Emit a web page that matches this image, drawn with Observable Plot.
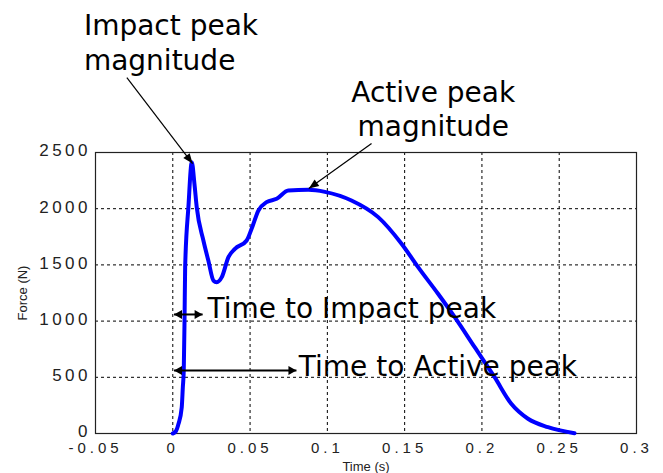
<!DOCTYPE html>
<html>
<head>
<meta charset="utf-8">
<script src="https://cdn.jsdelivr.net/npm/d3@7"></script>
<script src="https://cdn.jsdelivr.net/npm/@observablehq/plot@0.6"></script>
<style>
  html, body { margin: 0; padding: 0; background: #fff; }
  g[aria-label="y-axis tick label"] text { letter-spacing: 3.5px; }
  g[aria-label="x-axis tick label"] text { letter-spacing: 4px; }
  g[aria-label="xlabel"] text { letter-spacing: 2px; }
  g[aria-label="ylabel"] text { letter-spacing: 0.5px; }
</style>
</head>
<body>
<div id="chart"></div>
<script>
// ---- data ----
const timeS = [0, 0.002, 0.0037, 0.0058, 0.0065, 0.0071, 0.0076, 0.008, 0.0101, 0.0123, 0.014, 0.0155, 0.0198, 0.023, 0.0263, 0.0284, 0.0317, 0.036, 0.0402, 0.0478, 0.051, 0.0554, 0.0607, 0.0672, 0.0747, 0.0877, 0.0984, 0.1156, 0.1329, 0.148, 0.1587, 0.1716, 0.1824, 0.1953, 0.2082, 0.219, 0.2298, 0.2427, 0.2599];
const forceN = [0, 20, 86, 234, 412, 560, 1005, 1480, 2013, 2414, 2222, 2013, 1717, 1539, 1361, 1346, 1391, 1569, 1643, 1717, 1821, 1984, 2058, 2088, 2162, 2168, 2150, 2073, 1925, 1688, 1480, 1243, 1035, 768, 501, 264, 131, 56, 3];

const xTicks = [-0.05, 0, 0.05, 0.1, 0.15, 0.2, 0.25, 0.3];
const xTickLabels = ["-0.05", "0", "0.05", "0.1", "0.15", "0.2", "0.25", "0.3"];
const yTicks = [0, 500, 1000, 1500, 2000, 2500];
const yTickLabels = ["0", "500", "1000", "1500", "2000", "2500"];

const xTitle = "Time (s)";
const yTitle = "Force (N)";

// annotation texts (data coordinates)
const leftNotes = [
  {text: "Impact peak\nmagnitude", x: -0.0575, y: 3230},
  {text: "Time to Impact peak", x: 0.0225, y: 1032},
  {text: "Time to Active peak", x: 0.0815, y: 516}
];
const centerNotes = [
  {text: "Active peak\nmagnitude", x: 0.1685, y: 2651}
];

// pointer arrows: [x1, y1, x2(tip), y2(tip)]
const pointerArrows = [
  [-0.0297, 3167, 0.0128, 2402],
  [0.1286, 2580, 0.0880, 2180]
];
// double arrows: [xLeft, xRight, y]
const spanArrows = [
  [0.0008, 0.0193, 1059],
  [0.0008, 0.0800, 560]
];

// ---- layout ----
const W = 663, H = 473;
const mL = 95, mR = 27, mT = 152, mB = 40;
const xDomain = [-0.05, 0.3], yDomain = [0, 2500];
const sx = d3.scaleLinear(xDomain, [mL, W - mR]);
const sy = d3.scaleLinear(yDomain, [H - mB, mT]);

function head(x1, y1, x2, y2, L = 9, w = 4) {
  const a = Math.atan2(sy(y2) - sy(y1), sx(x2) - sx(x1));
  const c = Math.cos(a), s = Math.sin(a);
  return {
    draw(ctx) {
      ctx.moveTo(0, 0);
      ctx.lineTo(-L * c + w * s, -L * s - w * c);
      ctx.lineTo(-L * c - w * s, -L * s + w * c);
      ctx.closePath();
    }
  };
}

const curve = timeS.map((t, i) => ({t, f: forceN[i]}));
const xLabelMap = new Map(xTicks.map((t, i) => [t, xTickLabels[i]]));
const yLabelMap = new Map(yTicks.map((t, i) => [t, yTickLabels[i]]));

const headMarks = [];
for (const [x1, y1, x2, y2] of pointerArrows) {
  headMarks.push(Plot.dot([{x: x2, y: y2}], {x: "x", y: "y", r: 5, symbol: head(x1, y1, x2, y2, 10, 4), fill: "black", stroke: "none"}));
}
for (const [xa, xb, y] of spanArrows) {
  headMarks.push(Plot.dot([{x: xa, y}], {x: "x", y: "y", r: 5, symbol: head(xb, y, xa, y, 8, 4.5), fill: "black", stroke: "none"}));
  headMarks.push(Plot.dot([{x: xb, y}], {x: "x", y: "y", r: 5, symbol: head(xa, y, xb, y, 8, 4.5), fill: "black", stroke: "none"}));
}

const noteFont = "'DejaVu Sans', Verdana, sans-serif";

const chart = Plot.plot({
  width: W,
  height: H,
  marginLeft: mL,
  marginRight: mR,
  marginTop: mT,
  marginBottom: mB,
  style: {fontFamily: "'Liberation Sans', Arial, sans-serif", background: "#fff", color: "#000", overflow: "visible"},
  x: {domain: xDomain, label: null},
  y: {domain: yDomain, label: null},
  marks: [
    Plot.gridX(xTicks.slice(1, -1), {stroke: "#000", strokeOpacity: 1, strokeWidth: 1, strokeDasharray: "3,3"}),
    Plot.gridY(yTicks.slice(1, -1), {stroke: "#000", strokeOpacity: 1, strokeWidth: 1, strokeDasharray: "3,3"}),
    Plot.frame({stroke: "#222", strokeWidth: 1.2}),
    Plot.axisX(xTicks, {anchor: "bottom", tickSize: 0, tickPadding: 9, fontSize: 15, tickFormat: d => xLabelMap.get(d), label: null, fill: "#222"}),
    Plot.axisY(yTicks, {anchor: "left", tickSize: 0, tickPadding: 4.5, dy: -1.5, fontSize: 17, tickFormat: d => yLabelMap.get(d), label: null, fill: "#222"}),
    Plot.text([xTitle], {frameAnchor: "bottom", dy: 37, lineAnchor: "bottom", fontSize: 13, fill: "#222", ariaLabel: "xlabel"}),
    Plot.text([yTitle], {x: -0.0967, y: 1250, rotate: -90, textAnchor: "middle", lineAnchor: "middle", fontSize: 13, fill: "#222", ariaLabel: "ylabel"}),
    Plot.line(curve, {x: "t", y: "f", stroke: "#0000ff", strokeWidth: 4, curve: "monotone-x", strokeLinejoin: "round", strokeLinecap: "round"}),
    Plot.link(pointerArrows, {x1: d => d[0], y1: d => d[1], x2: d => d[2], y2: d => d[3], stroke: "#000", strokeWidth: 1.2}),
    Plot.link(spanArrows, {x1: d => d[0], x2: d => d[1], y1: d => d[2], y2: d => d[2], stroke: "#000", strokeWidth: 2}),
    ...headMarks,
    Plot.text(leftNotes, {x: "x", y: "y", text: "text", textAnchor: "start", lineAnchor: "bottom", lineHeight: 1.25, fontSize: 28, fontFamily: noteFont, fill: "#000"}),
    Plot.text(centerNotes, {x: "x", y: "y", text: "text", textAnchor: "middle", lineAnchor: "bottom", lineHeight: 1.18, fontSize: 28, fontFamily: noteFont, fill: "#000"})
  ]
});
document.getElementById("chart").appendChild(chart);
</script>
</body>
</html>
